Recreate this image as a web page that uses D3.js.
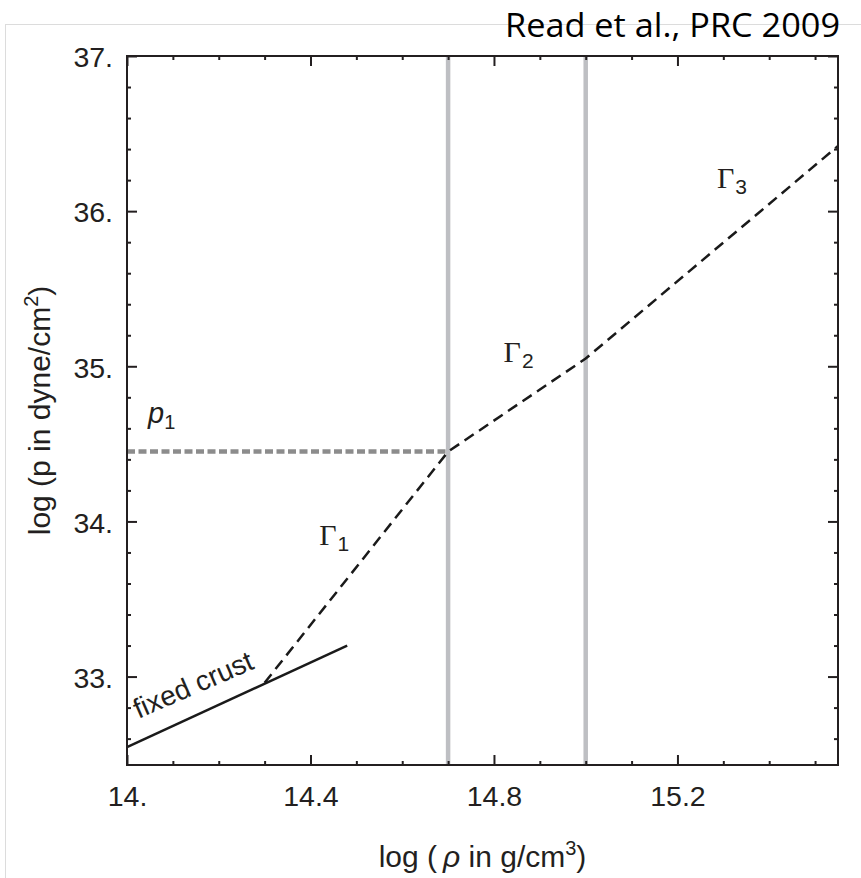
<!DOCTYPE html>
<html>
<head>
<meta charset="utf-8">
<script src="https://cdn.jsdelivr.net/npm/d3@7"></script>
<style>
  body { margin: 0; background: #fff; }
  svg { display: block; }
  text { font-family: "Liberation Sans", Arial, Helvetica, sans-serif; fill: #231f20; }
</style>
</head>
<body>
<svg id="chart" width="861" height="878"></svg>
<script>
// Piecewise polytropic equation of state: log pressure against log density

// fixed low-density crust
const crustRho = [14.0, 14.48];
const crustP = [32.545, 33.2];

// three-piece polytrope joined to the crust (log rho, log p)
const polyRho = [14.3, 14.7, 15.0, 15.55];
const polyP = [32.96, 34.45, 35.05, 36.42];

// dividing densities between the polytropic pieces
const dividingRho = [14.7, 15.0];

// pressure at the first dividing density
const p1Value = 34.45;

// axis ticks
const xMajorTicks = [14, 14.4, 14.8, 15.2];
const yMajorTicks = [33, 34, 35, 36, 37];
const gammaIndices = ["1", "2", "3"];

const W = 861, H = 878;
const margin = { top: 56, right: 23, bottom: 113, left: 127 };

const svg = d3.select("#chart");

const x = d3.scaleLinear().domain([14, 15.55]).range([margin.left, W - margin.right]);
const y = d3.scaleLinear().domain([32.43, 37]).range([H - margin.bottom, margin.top]);

const xMinor = d3.range(14.1, 15.55, 0.1).filter(v => !xMajorTicks.some(t => Math.abs(t - v) < 1e-6));
const yMinor = d3.range(32.6, 37, 0.2).filter(v => !yMajorTicks.some(t => Math.abs(t - v) < 1e-6));

// thin outer border lines
svg.append("line").attr("x1", 5).attr("x2", W).attr("y1", 24.5).attr("y2", 24.5)
  .attr("stroke", "#dcdcdc").attr("stroke-width", 1);
svg.append("line").attr("x1", 5.5).attr("x2", 5.5).attr("y1", 24).attr("y2", H)
  .attr("stroke", "#dcdcdc").attr("stroke-width", 1);

// citation
svg.append("text")
  .attr("x", 840).attr("y", 37)
  .attr("text-anchor", "end")
  .attr("textLength", 335)
  .attr("lengthAdjust", "spacingAndGlyphs")
  .style("font-family", "'Open Sans', 'Liberation Sans', sans-serif")
  .style("font-size", "32px")
  .style("fill", "#000")
  .text("Read et al., PRC 2009");

const plot = svg.append("g");

// dividing-density markers
plot.selectAll("line.divider")
  .data(dividingRho)
  .join("line")
  .attr("class", "divider")
  .attr("x1", d => x(d)).attr("x2", d => x(d))
  .attr("y1", y.range()[1]).attr("y2", y.range()[0])
  .attr("stroke", "#bebfc3")
  .attr("stroke-width", 4.5);

// p1 reference
plot.append("line")
  .attr("x1", x(14)).attr("x2", x(dividingRho[0]))
  .attr("y1", y(p1Value)).attr("y2", y(p1Value))
  .attr("stroke", "#8c8c8c")
  .attr("stroke-width", 4.5)
  .attr("stroke-dasharray", "8,3.5");

const line = d3.line().x(d => x(d[0])).y(d => y(d[1]));

// crust (solid)
plot.append("path")
  .datum(d3.zip(crustRho, crustP))
  .attr("d", line)
  .attr("fill", "none")
  .attr("stroke", "#1a1a1a")
  .attr("stroke-width", 2.5);

// polytropic pieces (dashed)
plot.append("path")
  .datum(d3.zip(polyRho, polyP))
  .attr("d", line)
  .attr("fill", "none")
  .attr("stroke", "#1a1a1a")
  .attr("stroke-width", 2.5)
  .attr("stroke-dasharray", "11,6.5");

// axes: labelled bottom/left, mirrored top/right, ticks pointing inward
const fmt = d => Number.isInteger(d) ? d + "." : d.toFixed(1);
function styleAxis(g) {
  g.select(".domain").remove();
  g.selectAll(".tick line").attr("stroke", "#231f20").attr("stroke-width", 2);
  g.selectAll(".tick text").style("font-size", "28.5px").attr("fill", "#231f20");
}
const xb = y.range()[0], xt = y.range()[1], yl = x.range()[0], yr = x.range()[1];

svg.append("g").attr("transform", `translate(0,${xb})`)
  .call(d3.axisBottom(x).tickValues(xMajorTicks).tickSize(-10).tickPadding(21).tickFormat(fmt))
  .call(styleAxis);
svg.append("g").attr("transform", `translate(0,${xb})`)
  .call(d3.axisBottom(x).tickValues(xMinor).tickSize(-4).tickFormat(""))
  .call(styleAxis);
svg.append("g").attr("transform", `translate(0,${xt})`)
  .call(d3.axisTop(x).tickValues(xMajorTicks).tickSize(-10).tickFormat(""))
  .call(styleAxis);
svg.append("g").attr("transform", `translate(0,${xt})`)
  .call(d3.axisTop(x).tickValues(xMinor).tickSize(-4).tickFormat(""))
  .call(styleAxis);

svg.append("g").attr("transform", `translate(${yl},0)`)
  .call(d3.axisLeft(y).tickValues(yMajorTicks).tickSize(-10).tickPadding(14).tickFormat(fmt))
  .call(styleAxis)
  .selectAll(".tick text").attr("dy", "0.38em");
svg.append("g").attr("transform", `translate(${yl},0)`)
  .call(d3.axisLeft(y).tickValues(yMinor).tickSize(-4).tickFormat(""))
  .call(styleAxis);
svg.append("g").attr("transform", `translate(${yr},0)`)
  .call(d3.axisRight(y).tickValues(yMajorTicks).tickSize(-10).tickFormat(""))
  .call(styleAxis);
svg.append("g").attr("transform", `translate(${yr},0)`)
  .call(d3.axisRight(y).tickValues(yMinor).tickSize(-4).tickFormat(""))
  .call(styleAxis);

// frame
svg.append("rect")
  .attr("x", yl).attr("y", xt)
  .attr("width", yr - yl).attr("height", xb - xt)
  .attr("fill", "none")
  .attr("stroke", "#231f20")
  .attr("stroke-width", 2);

// axis titles
const xTitle = svg.append("text")
  .attr("x", (yl + yr) / 2).attr("y", 867)
  .attr("text-anchor", "middle")
  .style("font-size", "30px");
xTitle.append("tspan").text("log (\u2009");
xTitle.append("tspan").style("font-style", "italic").text("\u03C1");
xTitle.append("tspan").text(" in g/cm");
xTitle.append("tspan").attr("dy", -12).style("font-size", "20px").text("3");
xTitle.append("tspan").attr("dy", 12).text(")");

const yTitle = svg.append("text")
  .attr("transform", `translate(50,${(xt + xb) / 2}) rotate(-90)`)
  .attr("text-anchor", "middle")
  .style("font-size", "30px");
yTitle.append("tspan").text("log (p in dyne/cm");
yTitle.append("tspan").attr("dy", -12).style("font-size", "20px").text("2");
yTitle.append("tspan").attr("dy", 12).text(")");

// annotations
const p1Label = svg.append("text")
  .attr("x", x(14.046)).attr("y", y(34.632))
  .style("font-size", "29px");
p1Label.append("tspan").style("font-style", "italic").text("p");
p1Label.append("tspan").attr("dy", 6).style("font-size", "20px").text("1");

const gammaPos = [[14.419, 33.845], [14.821, 35.026], [15.286, 36.148]];
gammaIndices.forEach((idx, i) => {
  const t = svg.append("text")
    .attr("x", x(gammaPos[i][0])).attr("y", y(gammaPos[i][1]));
  t.append("tspan")
    .style("font-family", "'Liberation Serif', 'Times New Roman', serif")
    .style("font-size", "30px")
    .text("\u0393");
  t.append("tspan").attr("dx", 1).attr("dy", 6).style("font-size", "21px").text(idx);
});

svg.append("text")
  .attr("transform", `translate(${x(14.025)},${y(32.727)}) rotate(-23.5)`)
  .style("font-size", "28px")
  .text("fixed crust");
</script>
</body>
</html>
